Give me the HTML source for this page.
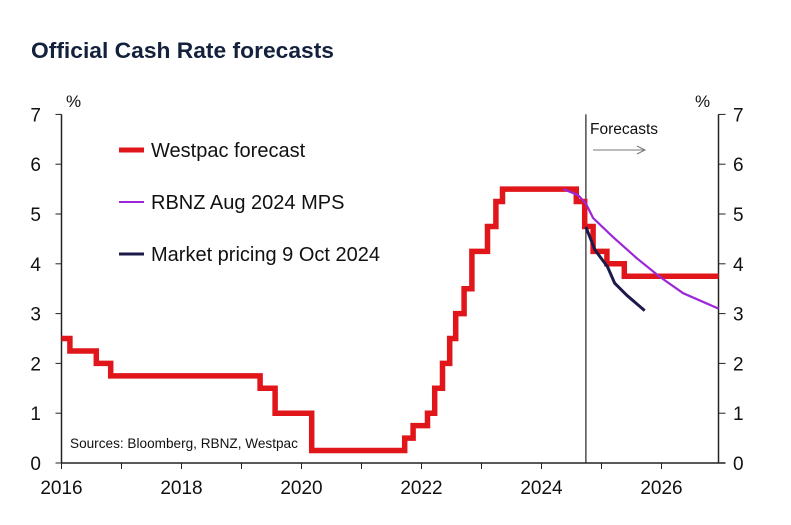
<!DOCTYPE html>
<html><head><meta charset="utf-8"><style>
body{margin:0;background:#fff;}
svg{display:block;font-family:"Liberation Sans",Arial,sans-serif;}
</style></head><body>
<svg id="chart" width="791" height="525" viewBox="0 0 791 525">
<text x="31" y="58" font-size="22" font-weight="bold" fill="#14213d" font-family="'Liberation Sans',sans-serif" textLength="303" lengthAdjust="spacingAndGlyphs">Official Cash Rate forecasts</text>
<g id="axes"></g>
<g id="series"></g>
<g>
<line x1="119" y1="150" x2="144" y2="150" stroke="#e0161b" stroke-width="5"/>
<text x="151" y="157" font-size="20" fill="#111">Westpac forecast</text>
<line x1="119" y1="202" x2="144" y2="202" stroke="#9b27d8" stroke-width="2"/>
<text x="151" y="209" font-size="20" fill="#111">RBNZ Aug 2024 MPS</text>
<line x1="119" y1="254" x2="144" y2="254" stroke="#1c1a4a" stroke-width="3"/>
<text x="151" y="261" font-size="20" fill="#111">Market pricing 9 Oct 2024</text>
</g>
<text x="70" y="448" font-size="13.6" fill="#111">Sources: Bloomberg, RBNZ, Westpac</text>
<text x="590" y="134" font-size="15.5" fill="#111">Forecasts</text>
<line x1="593" y1="150" x2="644" y2="150" stroke="#777" stroke-width="1"/>
<polyline points="637,146 645,150 637,154" fill="none" stroke="#777" stroke-width="1"/>
</svg>
<script>
const yTicks=[0,1,2,3,4,5,6,7];
const xTickYears=[2016,2017,2018,2019,2020,2021,2022,2023,2024,2025,2026];
const xLabelYears=[2016,2018,2020,2022,2024,2026];
const westpacDates=[2016,2016.14,2016.58,2016.82,2019.31,2019.56,2020.17,2021.72,2021.86,2022.1,2022.22,2022.35,2022.47,2022.57,2022.71,2022.84,2023.1,2023.24,2023.35,2024.58,2024.72,2024.86,2025.09,2025.38];
const westpacRates=[2.5,2.25,2.0,1.75,1.5,1.0,0.25,0.5,0.75,1.0,1.5,2.0,2.5,3.0,3.5,4.25,4.75,5.25,5.5,5.25,4.75,4.25,4.0,3.75];
const rbnzDates=[2024.36,2024.61,2024.74,2024.86,2025.19,2025.59,2025.97,2026.36,2026.95];
const rbnzRates=[5.5,5.38,5.21,4.92,4.54,4.11,3.74,3.41,3.1];
const marketDates=[2024.74,2024.89,2025.1,2025.22,2025.42,2025.72];
const marketRates=[4.74,4.28,3.94,3.61,3.37,3.06];
const forecastStart=2024.74;
const xEnd=2026.95;

const X0=61.5,PX=60,Y0=463,PY=49.8,RIGHT=718.5;
const xs=d=>X0+(d-2016)*PX;
const ys=v=>Y0-v*PY;
const NS="http://www.w3.org/2000/svg";
function mk(tag,attrs,parent,txt){const e=document.createElementNS(NS,tag);for(const k in attrs)e.setAttribute(k,attrs[k]);if(txt!==undefined)e.textContent=txt;parent.appendChild(e);return e;}
const ax=document.getElementById('axes'),se=document.getElementById('series');
let e;
e=mk('line',{x1:X0,y1:ys(7),x2:X0,y2:Y0,stroke:'#222','stroke-width':1.5},ax);


e=mk('line',{x1:RIGHT,y1:ys(7),x2:RIGHT,y2:Y0,stroke:'#222','stroke-width':1.5},ax);


e=mk('line',{x1:X0,y1:Y0,x2:RIGHT+7,y2:Y0,stroke:'#222','stroke-width':1.5},ax);


yTicks.forEach(v=>{
  mk('line',{x1:X0-6,y1:ys(v),x2:X0,y2:ys(v),stroke:'#222','stroke-width':1},ax);
  mk('line',{x1:RIGHT,y1:ys(v),x2:RIGHT+7,y2:ys(v),stroke:'#222','stroke-width':1},ax);
  e=mk('text',{x:41,y:ys(v)+7,'font-size':19,'text-anchor':'end',fill:'#111'},ax,String(v));
  
  
  e=mk('text',{x:733,y:ys(v)+7,'font-size':19,fill:'#111'},ax,String(v));
  
  
});
e=mk('text',{x:66,y:107,'font-size':17,fill:'#111'},ax,'%');


e=mk('text',{x:695,y:107,'font-size':17,fill:'#111'},ax,'%');


xTickYears.forEach(y=>{mk('line',{x1:xs(y),y1:Y0,x2:xs(y),y2:Y0+6,stroke:'#222','stroke-width':1},ax);});
xLabelYears.forEach(y=>{
  e=mk('text',{x:xs(y),y:Y0+31,'font-size':19,'text-anchor':'middle',fill:'#111'},ax,String(y));
  
  
});
e=mk('line',{x1:xs(forecastStart),y1:ys(7),x2:xs(forecastStart),y2:Y0,stroke:'#222','stroke-width':1.2},ax);


let pts=[];
westpacDates.forEach((d,i)=>{const next=i+1<westpacDates.length?westpacDates[i+1]:xEnd;pts.push(xs(d)+','+ys(westpacRates[i]));pts.push(xs(next)+','+ys(westpacRates[i]));});
e=mk('polyline',{points:pts.join(' '),fill:'none',stroke:'#e0161b','stroke-width':5.5,'stroke-linejoin':'miter'},se);


e=mk('polyline',{points:rbnzDates.map((d,i)=>xs(d)+','+ys(rbnzRates[i])).join(' '),fill:'none',stroke:'#9b27d8','stroke-width':2.2,'stroke-linejoin':'round'},se);


e=mk('polyline',{points:marketDates.map((d,i)=>xs(d)+','+ys(marketRates[i])).join(' '),fill:'none',stroke:'#1c1a4a','stroke-width':3,'stroke-linejoin':'round'},se);


</script>
</body></html>
